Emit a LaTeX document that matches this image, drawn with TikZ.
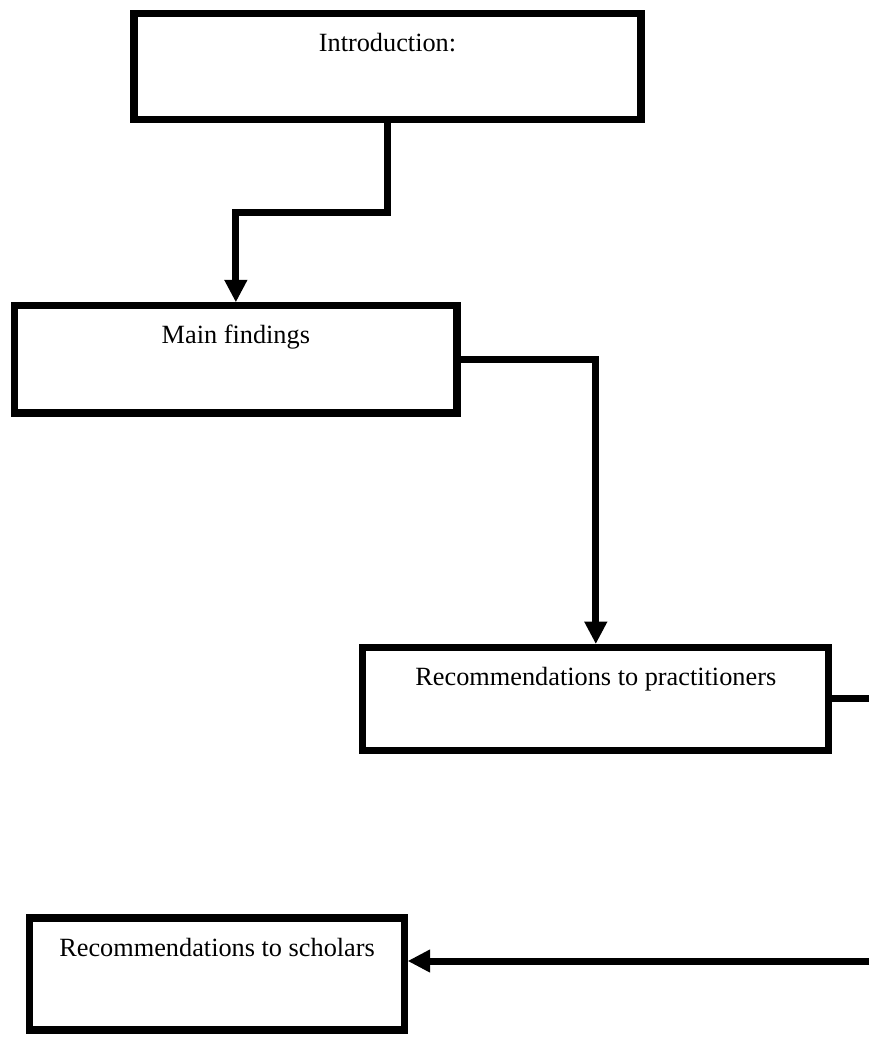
\documentclass[tikz,border=0pt]{standalone}
\usepackage{fontspec}
\setmainfont{Liberation Serif}
\usetikzlibrary{arrows.meta}
\begin{document}
\begin{tikzpicture}[x=1pt,y=-1pt,
  box/.style={draw=black, line width=7.3pt, line join=miter, rectangle, inner sep=0pt},
  lbl/.style={anchor=base, inner sep=0pt, font=\fontsize{26.3}{31}\selectfont},
  wire/.style={draw=black, line width=7pt, line join=miter},
  tip/.style={-{Triangle[width=23.4pt,length=22pt,line width=0pt]}}]
  % page
  \fill[white] (0,0) rectangle (869,1064);
  \useasboundingbox (0,0) rectangle (869,1064);

  % boxes
  \node[box, minimum width=507pt,   minimum height=105.8pt] (intro)   at (387.5, 66.6)  {};
  \node[box, minimum width=442.3pt, minimum height=107.5pt] (main)    at (235.85,359.25) {};
  \node[box, minimum width=466pt,   minimum height=103.3pt] (pract)   at (595.8, 698.85) {};
  \node[box, minimum width=374.8pt, minimum height=112pt]   (scholar) at (217.1, 974)   {};

  % labels
  \node[lbl] (introtxt)   at (387.5, 51.7)  {Introduction:};
  \node[lbl] (maintxt)    at (235.85,343.4) {Main findings};
  \node[lbl] (practtxt)   at (595.8, 685.1) {Recommendations to practitioners};
  \node[lbl] (scholartxt) at (217.1, 956)   {Recommendations to scholars};

  % connectors
  \coordinate (bend1) at (387.5, 212.5);
  \coordinate (rightA) at (869, 698.85);
  \coordinate (rightB) at (869, 961);

  \draw[wire, tip] (intro.south) -- (bend1) -| (main.north);
  \draw[wire, tip] (main.east) -| (pract.north);
  \draw[wire] (pract.east) -- (rightA);
  \draw[wire, tip] (rightB) -- (rightB -| scholar.east);
\end{tikzpicture}
\end{document}
